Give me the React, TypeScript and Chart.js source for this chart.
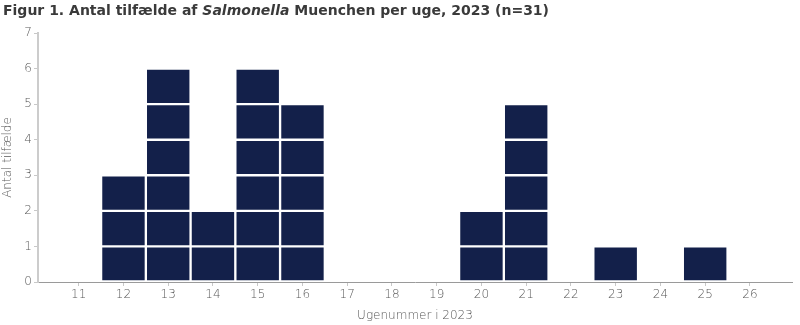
import React, { useEffect, useRef } from "react";
import { Chart, registerables } from "chart.js";

Chart.register(...registerables);

const weeks: number[] = [11, 12, 13, 14, 15, 16, 17, 18, 19, 20, 21, 22, 23, 24, 25, 26];
const cases: number[] = [0, 3, 6, 2, 6, 5, 0, 0, 0, 2, 5, 0, 1, 0, 1, 0];
const yTicks: number[] = [0, 1, 2, 3, 4, 5, 6, 7];
const layers: number[] = [1, 2, 3, 4, 5, 6, 7];

const titleBefore = "Figur 1. Antal tilfælde af ";
const titleItalic = "Salmonella";
const titleAfter = " Muenchen per uge, 2023 (n=31)";
const xTitle = "Ugenummer i 2023";
const yTitle = "Antal tilfælde";

const BAR = "#13204a";
const FONT = "'DejaVu Sans', sans-serif";

export default function App() {
  const ref = useRef<HTMLCanvasElement | null>(null);

  useEffect(() => {
    if (!ref.current) return;
    const datasets = layers.map((k) => ({
      label: "Lag " + k,
      data: weeks.map((w, i) => ({ x: w, y: cases[i] >= k ? 1 : null })),
      backgroundColor: BAR,
      borderColor: "#ffffff",
      borderWidth: 1.5,
      borderSkipped: false as const,
      categoryPercentage: 1,
      barPercentage: 1,
    }));
    const chart = new Chart(ref.current, {
      type: "bar",
      data: { datasets: datasets as any },
      options: {
        animation: false,
        responsive: false,
        maintainAspectRatio: false,
        layout: { padding: { top: 33, right: 8, left: 0, bottom: 0 } },
        plugins: { legend: { display: false }, tooltip: { enabled: false }, title: { display: false } },
        scales: {
          x: {
            type: "linear",
            stacked: true,
            offset: false,
            min: 10.09,
            max: 26.94,
            afterBuildTicks: (s: any) => {
              s.ticks = weeks.map((w) => ({ value: w }));
            },
            afterFit: (s: any) => {
              s.height = 43;
            },
            grid: { offset: false, drawOnChartArea: false, drawTicks: true, tickLength: 4, color: "#c8c8c8" },
            border: { display: true, color: "#9a9a9a", width: 1 },
            ticks: {
              autoSkip: false,
              maxRotation: 0,
              padding: 2,
              color: "#595959",
              font: { family: FONT, size: 12, weight: 200 as any },
              callback: (v: any) => String(v),
            },
            title: {
              display: true,
              text: xTitle,
              color: "#595959",
              font: { family: FONT, size: 12, weight: 200 as any },
              padding: { top: 0, bottom: 2 },
            },
          },
          y: {
            type: "linear",
            stacked: true,
            min: 0,
            max: 7,
            afterBuildTicks: (s: any) => {
              s.ticks = yTicks.map((v) => ({ value: v }));
            },
            afterFit: (s: any) => {
              s.width = 38;
            },
            grid: { drawOnChartArea: false, drawTicks: true, tickLength: 4, color: "#c8c8c8" },
            border: { display: true, color: "#cccccc", width: 2 },
            ticks: {
              padding: 2,
              color: "#595959",
              font: { family: FONT, size: 12, weight: 200 as any },
            },
            title: {
              display: true,
              text: yTitle,
              color: "#595959",
              font: { family: FONT, size: 12, weight: 200 as any },
              padding: { top: 1, bottom: 0 },
            },
          },
        },
      },
    });
    return () => chart.destroy();
  }, []);

  return (
    <div style={{ position: "absolute", left: 0, top: 0, width: 800, height: 325, background: "#fff" }}>
      <canvas ref={ref} width={800} height={325} style={{ position: "absolute", left: 0, top: 0, width: 800, height: 325 }} />
      <div
        style={{
          position: "absolute",
          left: 3,
          top: 0,
          fontFamily: FONT,
          fontWeight: "bold",
          fontSize: 14,
          lineHeight: "20px",
          color: "#3a3a3a",
          whiteSpace: "nowrap",
        }}
      >
        {titleBefore}
        <i>{titleItalic}</i>
        {titleAfter}
      </div>
    </div>
  );
}
